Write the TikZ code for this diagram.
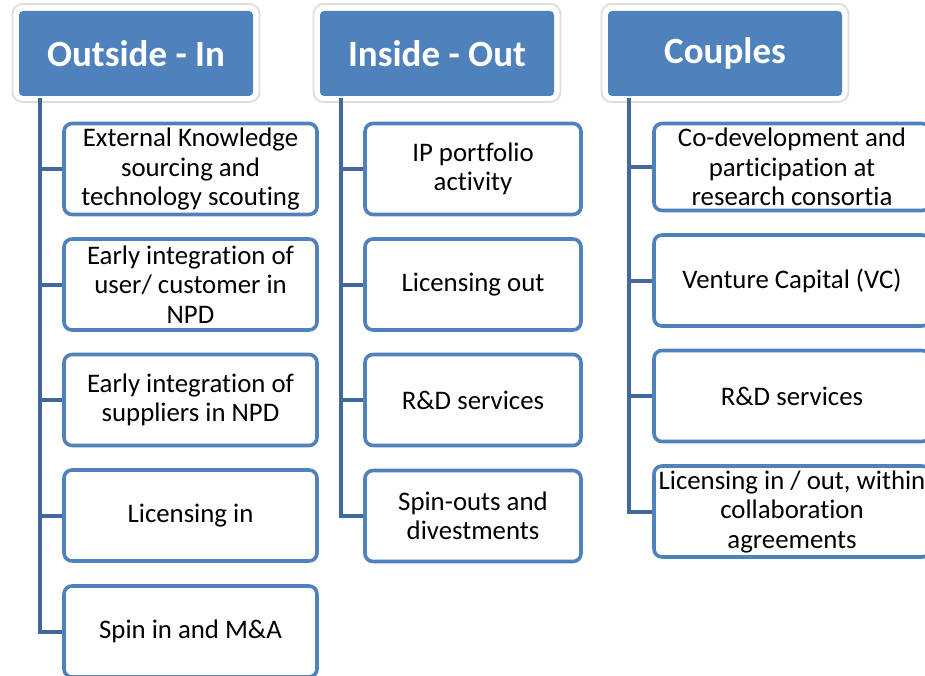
\documentclass[tikz,border=0pt]{standalone}
\usepackage{fontspec}
\setmainfont[Ligatures={NoCommon}]{Carlito}
\definecolor{hblue}{HTML}{4F81BD}
\definecolor{iblue}{HTML}{4F81BD}
\definecolor{cblue}{HTML}{41699D}
\newcommand\itemfnt{\fontsize{26.8}{29.5}\selectfont}
\newcommand\hdrfnt{\fontsize{37}{40}\selectfont\bfseries}
\tikzset{
  hdrframe/.style={fill=white, draw=black!13, line width=1.8pt, rounded corners=10pt,
    minimum width=247pt, minimum height=98pt, inner sep=0pt},
  hdr/.style={fill=hblue, rounded corners=4pt, minimum width=234pt, minimum height=85pt,
    text=white, font=\hdrfnt, inner sep=0pt},
  item/.style={draw=iblue, line width=3.6pt, fill=white, rounded corners=8pt,
    align=center, font=\itemfnt, inner sep=0pt, minimum height=91pt},
  itemA/.style={item, minimum width=253pt},
  itemB/.style={item, minimum width=216pt},
  itemC/.style={item, minimum width=276pt},
  conn/.style={draw=cblue, line width=4pt}
}
\begin{document}
\begin{tikzpicture}[x=1pt, y=-1pt]
\useasboundingbox (0,0) rectangle (925,676);
\clip (0,0) rectangle (925,676);
% headers
\node[hdrframe] (f1) at (136,53) {};
\node[hdr] (h1) at (136,53.5) {Outside - In};
\node[hdrframe] (f2) at (437,53) {};
\node[hdr] (h2) at (437,53.5) {Inside - Out};
\node[hdrframe] (f3) at (725,53) {};
\node[hdr] (h3) at (725,53.5) {Couples};
% Outside-In items
\node[itemA] (a1) at (190.5,169) {External Knowledge\\sourcing and\\technology scouting};
\node[itemA] (a2) at (190.5,284.5) {Early integration of\\user/ customer in\\NPD};
\node[itemA] (a3) at (190.5,400) {Early integration of\\suppliers in NPD};
\node[itemA] (a4) at (190.5,515.5) {Licensing in};
\node[itemA] (a5) at (190.5,631.5) {Spin in and M\&A};
% Inside-Out items
\node[itemB] (b1) at (473,169) {IP portfolio\\activity};
\node[itemB] (b2) at (473,284.5) {Licensing out};
\node[itemB] (b3) at (473,400) {R\&D services};
\node[itemB] (b4) at (473,516) {Spin-outs and\\divestments};
% Couples items
\node[itemC, minimum height=87pt] (c1) at (792,167) {Co-development and\\participation at\\research consortia};
\node[itemC] (c2) at (792,280.5) {Venture Capital (VC)};
\node[itemC] (c3) at (792,396) {R\&D services};
\node[itemC] (c4) at (792,511.5) {Licensing in / out, within\\collaboration\\agreements};
% connectors
\coordinate (ta) at (40,98);
\coordinate (tb) at (341,98);
\coordinate (tc) at (629,98);
\draw[conn] (ta) |- (a5.west);
\foreach \n in {a1,a2,a3,a4} \draw[conn] (ta |- \n.west) -- (\n.west);
\draw[conn] (tb) |- (b4.west);
\foreach \n in {b1,b2,b3} \draw[conn] (tb |- \n.west) -- (\n.west);
\draw[conn] (tc) |- (c4.west);
\foreach \n in {c1,c2,c3} \draw[conn] (tc |- \n.west) -- (\n.west);
\end{tikzpicture}
\end{document}
